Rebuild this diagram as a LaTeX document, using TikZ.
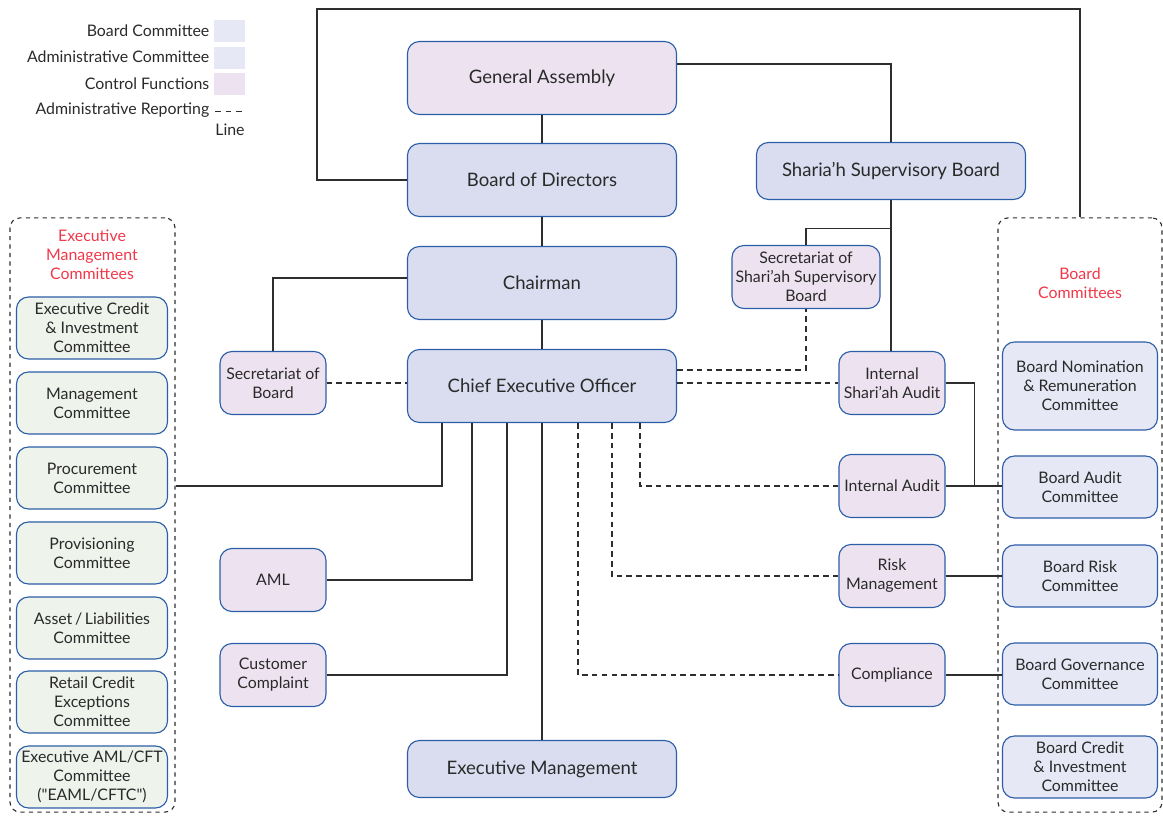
\documentclass[tikz,border=0pt]{standalone}
\usepackage{fontspec}
\setmainfont{Lato}
\usepackage{xcolor}
\usepackage{tikz}

\definecolor{BoxLine}{HTML}{2C5EA8}
\definecolor{MainFill}{HTML}{D9DDEF}
\definecolor{CtrlFill}{HTML}{EDE3F0}
\definecolor{BcFill}{HTML}{E6E8F5}
\definecolor{ExecFill}{HTML}{EEF3EC}
\definecolor{LinkGray}{HTML}{2E2E2E}
\definecolor{TextGray}{HTML}{2A2A2A}
\definecolor{LabelRed}{HTML}{F0384A}

\newcommand{\bigtxt}{\fontsize{13.2}{16}\selectfont}
\newcommand{\smalltxt}{\fontsize{11.3}{13.5}\selectfont}

\begin{document}
\begin{tikzpicture}[x=0.025cm,y=-0.025cm,
  box/.style={draw=BoxLine,thick,rounded corners=0.3cm,align=center,inner sep=1pt,text=TextGray},
  mainbox/.style={box,fill=MainFill,minimum width=6.725cm,minimum height=1.825cm,font=\bigtxt},
  ctrlbox/.style={box,fill=CtrlFill,minimum width=2.65cm,minimum height=1.575cm,font=\smalltxt},
  execbox/.style={box,fill=ExecFill,minimum width=3.775cm,minimum height=1.55cm,font=\smalltxt},
  bcbox/.style={box,fill=BcFill,minimum width=3.875cm,minimum height=1.55cm,font=\smalltxt},
  frame/.style={draw=LinkGray,thick,dashed,rounded corners=0.25cm,minimum height=14.85cm},
  link/.style={draw=LinkGray,thick},
  dlink/.style={link,dash pattern=on 4pt off 3pt},
  legtxt/.style={anchor=east,font=\smalltxt,text=TextGray,inner sep=1pt},
  redtxt/.style={font=\smalltxt,text=LabelRed,align=center}]
\useasboundingbox (0,0) rectangle (1163,815);

% legend
\node[legtxt] (lgboard) at (211,31) {Board Committee};
\node[legtxt] (lgadmin) at (211,57) {Administrative Committee};
\node[legtxt] (lgctrl) at (211,84) {Control Functions};
\node[legtxt] (lgrep) at (211,110) {Administrative Reporting};
\node[font=\smalltxt,text=TextGray,inner sep=1pt] (lgline) at (230,130) {Line};
\fill[BcFill] (214,20) rectangle (245,42);
\fill[BcFill] (214,47) rectangle (245,69);
\fill[CtrlFill] (214,73) rectangle (245,95);
\draw[LinkGray,semithick,dash pattern=on 4pt off 3.5pt] (215,111) -- (246,111);

% dashed frames
\node[frame,minimum width=4.125cm] (emframe) at (92.5,515) {};
\node[frame,minimum width=4.1cm] (bcframe) at (1080,515) {};
\node[redtxt] (emlabel) at (92,255) {Executive\\Management\\Committees};
\node[redtxt] (bclabel) at (1080,283) {Board\\Committees};

% main column
\node[mainbox,fill=CtrlFill] (ga) at (542,78) {General Assembly};
\node[mainbox] (bod) at (542,180) {Board of Directors};
\node[mainbox] (chair) at (542,283) {Chairman};
\node[mainbox] (ceo) at (542,386) {Chief Executive Officer};
\node[mainbox,minimum height=1.425cm] (exm) at (542,769) {Executive Management};
\node[mainbox,minimum height=1.425cm] (ssb) at (891,171) {Sharia’h Supervisory Board};

% control functions
\node[ctrlbox,minimum width=3.7cm] (sssb) at (806,277) {Secretariat of\\Shari’ah Supervisory\\Board};
\node[ctrlbox] (sob) at (273,383) {Secretariat of\\Board};
\node[ctrlbox] (isa) at (892,383) {Internal\\Shari’ah Audit};
\node[ctrlbox] (ia) at (892,486) {Internal Audit};
\node[ctrlbox] (rm) at (892,576) {Risk\\Management};
\node[ctrlbox] (comp) at (892,675) {Compliance};
\node[ctrlbox] (aml) at (273,580) {AML};
\node[ctrlbox] (cc) at (273,675) {Customer\\Complaint};

% executive management committees
\node[execbox] (ecic) at (92,328) {Executive Credit\\\& Investment\\Committee};
\node[execbox] (mc) at (92,403) {Management\\Committee};
\node[execbox] (pc) at (92,478) {Procurement\\Committee};
\node[execbox] (provc) at (92,553) {Provisioning\\Committee};
\node[execbox] (alc) at (92,628) {Asset\,/\,Liabilities\\Committee};
\node[execbox] (rcec) at (92,702) {Retail Credit\\Exceptions\\Committee};
\node[execbox] (eaml) at (92,777) {Executive AML/CFT\\Committee\\(\textquotedbl EAML/CFTC\textquotedbl)};

% board committees
\node[bcbox,minimum height=2.2cm] (bnrc) at (1080,386) {Board Nomination\\\& Remuneration\\Committee};
\node[bcbox] (bac) at (1080,487) {Board Audit\\Committee};
\node[bcbox] (brc) at (1080,576) {Board Risk\\Committee};
\node[bcbox] (bgc) at (1080,674) {Board Governance\\Committee};
\node[bcbox] (bcic) at (1080,767) {Board Credit\\\& Investment\\Committee};

% solid reporting lines
\draw[link] (bod.west) -| (317,9) -| (bcframe.north);
\draw[link] ([yshift=0.35cm]ga.east) -| (ssb.north);
\draw[link] (ga.south) -- (bod.north);
\draw[link] (bod.south) -- (chair.north);
\draw[link] (chair.south) -- (ceo.north);
\draw[link] (ceo.south) -- (exm.north);
\draw[link] (ssb.south) -- (ssb.south |- isa.north);
\draw[link] (ssb.south) ++(0,28) -| (sssb.north);
\draw[link] ([yshift=0.125cm]chair.west) -| (sob.north);
\draw[link] ([xshift=-2.5cm]ceo.south) |- (emframe.east |- ia.west);
\draw[link] ([xshift=-1.75cm]ceo.south) |- (aml.east);
\draw[link] ([xshift=-0.875cm]ceo.south) |- (cc.east);
\draw[link] (isa.east) -- ++(29,0) |- (ia.east);
\draw[link] (ia.east) -- (bac.west |- ia.east);
\draw[link] (rm.east) -- (brc.west |- rm.east);
\draw[link] (comp.east) -- (bgc.west |- comp.east);

% administrative reporting
\draw[dlink] (sob.east) -- (ceo.west |- sob.east);
\draw[dlink] ([yshift=0.4cm]ceo.east) -| (sssb.south);
\draw[dlink] (ceo.east |- isa.west) -- (isa.west);
\draw[dlink] ([xshift=0.9cm]ceo.south) |- (comp.west);
\draw[dlink] ([xshift=1.75cm]ceo.south) |- (rm.west);
\draw[dlink] ([xshift=2.45cm]ceo.south) |- (ia.west);

\end{tikzpicture}
\end{document}
